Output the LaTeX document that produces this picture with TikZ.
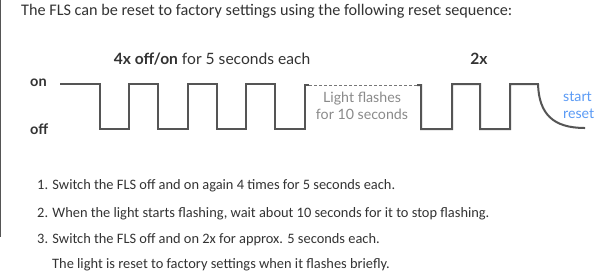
\documentclass[tikz,border=0pt]{standalone}
\usepackage{fontspec}
\setmainfont{Carlito}
\newfontfamily\labelfont{Lato}
\definecolor{bodytext}{HTML}{333333}
\definecolor{wave}{HTML}{555555}
\definecolor{note}{HTML}{8A8A8A}
\definecolor{resetblue}{HTML}{5B9BF5}
\begin{document}
\begin{tikzpicture}[x=1pt,y=-1pt,
  body/.style={anchor=base west,inner sep=0pt,text=bodytext,font=\fontsize{14.4}{16}\selectfont},
  lvl/.style={anchor=west,inner sep=0pt,text=bodytext,font=\labelfont\bfseries\fontsize{14.5}{16}\selectfont},
  signal/.style={draw=wave,line width=2pt,line join=miter},
  flashbox/.style={draw=wave!80,line width=1pt,dash pattern=on 3pt off 2pt},
  notetext/.style={align=center,inner sep=0pt,text=note,font=\labelfont\fontsize{14.2}{17}\selectfont},
  bluetext/.style={align=left,inner sep=0pt,text=resetblue,font=\labelfont\fontsize{14.2}{17}\selectfont}]
\useasboundingbox (0,0) rectangle (612,277);
\fill[white] (0,0) rectangle (612,277);
% page edge
\draw[wave,line width=1.2pt] (0.6,0) -- (0.6,237);

% heading line
\node[body,font=\fontsize{16.2}{18}\selectfont] (head) at (21,15.5) {The FLS can be reset to factory settings using the following reset sequence:};

% timing labels
\node[inner sep=0pt,text=bodytext,font=\labelfont\fontsize{15.6}{17}\selectfont] (cnt4) at (212,59) {\textbf{4x off/on} for 5 seconds each};
\node[inner sep=0pt,text=bodytext,font=\labelfont\bfseries\fontsize{15.6}{17}\selectfont] (cnt2) at (479,59) {2x};
\node[lvl] (on) at (30,83) {on};
\node[lvl] (off) at (30,129) {off};

% switching sequence
\draw[signal] (60,84) -- (100,84) -- (100,129) -- (129,129) -- (129,84) -- (158,84) -- (158,129)
  -- (188,129) -- (188,84) -- (217,84) -- (217,129) -- (246,129) -- (246,84) -- (275,84)
  -- (275,129) -- (305,129) -- (305,85) -- (309,85);
\draw[flashbox] (309,85) -- (417,85);
\draw[signal] (417,85) -- (421,85) -- (421,129) -- (452,129) -- (452,84) -- (480,84) -- (480,129)
  -- (510,129) -- (510,84) -- (538,84) .. controls (539,114) and (553,128) .. (585,128);

\node[notetext] (flash) at (362,105.5) {Light flashes\\for 10 seconds};
\node[bluetext,anchor=west] (reset) at (563,105.5) {start\\reset};

% instructions
\node[body] (s1) at (37,189) {1. Switch the FLS off and on again 4 times for 5 seconds each.};
\node[body] (s2) at (37,217) {2. When the light starts flashing, wait about 10 seconds for it to stop flashing.};
\node[body] (s3) at (37,243) {3. Switch the FLS off and on 2x for approx. 5 seconds each.};
\node[body] (s4) at (52,268) {The light is reset to factory settings when it flashes briefly.};
\end{tikzpicture}
\end{document}
